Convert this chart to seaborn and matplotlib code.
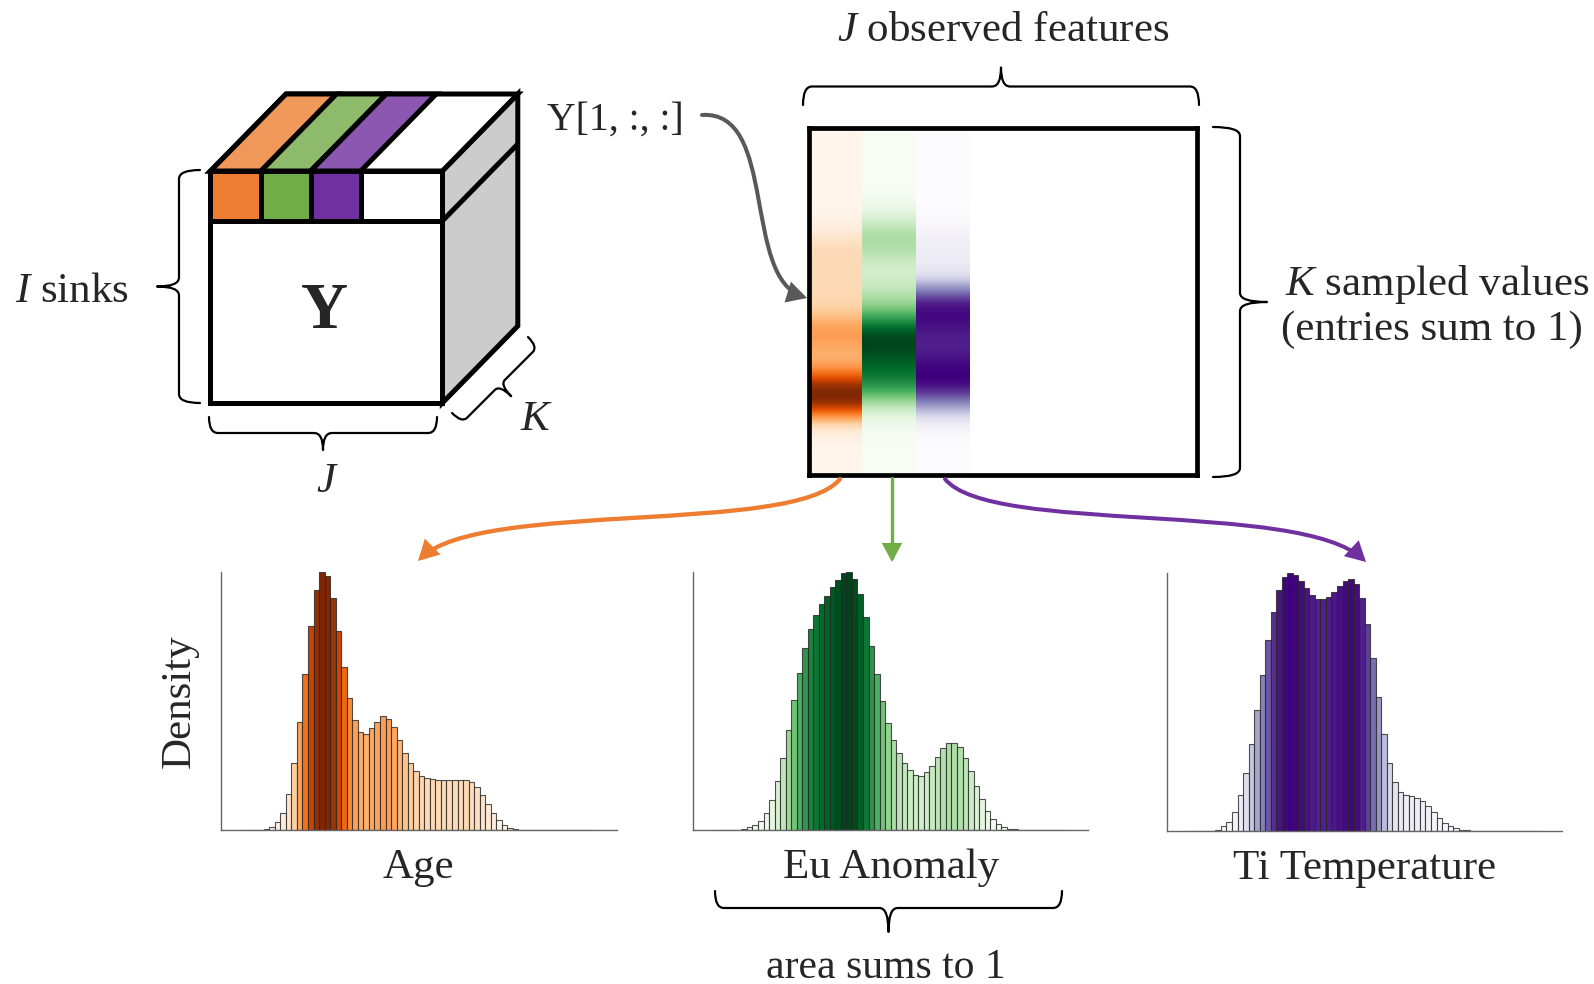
import numpy as np
import pandas as pd
import matplotlib
matplotlib.use("Agg")
import matplotlib.pyplot as plt
import seaborn as sns
from matplotlib.path import Path
from matplotlib.patches import Polygon, FancyArrowPatch, PathPatch, Rectangle

# ---------------- data ----------------
features = ["Age", "Eu Anomaly", "Ti Temperature"]
cmap_names = ["Oranges", "Greens", "Purples"]
n_bins = 64

age_density = [0, 0, 0, 0,
               0.003, 0.01, 0.03, 0.067, 0.14, 0.26, 0.42, 0.605, 0.79, 0.93,
               1.0, 0.986, 0.90, 0.77, 0.63, 0.51, 0.426, 0.38, 0.374, 0.395,
               0.42, 0.44, 0.43, 0.40, 0.35, 0.30, 0.26, 0.23, 0.21, 0.20,
               0.197, 0.195, 0.195, 0.195, 0.195, 0.195, 0.195, 0.187, 0.167, 0.137,
               0.10, 0.066, 0.039, 0.019, 0.009, 0.004] + [0] * 14

eu_density = [0] * 5 + [
    0.005, 0.01, 0.018, 0.035, 0.067, 0.116, 0.19, 0.28, 0.387, 0.503,
    0.61, 0.707, 0.78, 0.832, 0.875, 0.907, 0.94, 0.97, 0.996, 1.0,
    0.974, 0.916, 0.826, 0.714, 0.603, 0.50, 0.415, 0.347, 0.30, 0.26,
    0.232, 0.215, 0.21, 0.223, 0.25, 0.284, 0.317, 0.338, 0.339, 0.32,
    0.279, 0.227, 0.17, 0.121, 0.075, 0.044, 0.023, 0.013, 0.005, 0.003] + [0] * 9

ti_density = [0] * 5 + [
    0.005, 0.018, 0.036, 0.075, 0.138, 0.225, 0.338, 0.468, 0.605, 0.737,
    0.849, 0.934, 0.982, 1.0, 0.991, 0.968, 0.941, 0.914, 0.897, 0.897,
    0.905, 0.924, 0.949, 0.968, 0.974, 0.956, 0.90, 0.80, 0.67, 0.519,
    0.377, 0.264, 0.19, 0.152, 0.139, 0.135, 0.129, 0.116, 0.097, 0.075,
    0.051, 0.032, 0.019, 0.01, 0.005, 0.003] + [0] * 13

densities = [age_density, eu_density, ti_density]

front_colors = ["#ed7d31", "#70ad47", "#7030a0"]
top_colors = ["#f0985a", "#8ebb6b", "#8b57b0"]

# ---------------- style ----------------
sns.set_style("white")
plt.rcParams["font.family"] = ["Liberation Serif", "DejaVu Serif"]
plt.rcParams["mathtext.fontset"] = "custom"
plt.rcParams["mathtext.rm"] = "Liberation Serif"
plt.rcParams["mathtext.it"] = "Liberation Serif:italic"
plt.rcParams["mathtext.bf"] = "Liberation Serif:bold"

W, H = 1594, 984
fig = plt.figure(figsize=(W / 100, H / 100), dpi=100)
fig.patch.set_facecolor("white")


def px_rect(x0, y0, x1, y1):
    return [x0 / W, 1 - y1 / H, (x1 - x0) / W, (y1 - y0) / H]


FS = 31

# ---------------- histograms ----------------
hist_boxes = [(221, 572, 616.5, 830), (693.3, 572, 1088, 830), (1167.3, 572.5, 1562, 831)]
edges = [float(e) for e in range(n_bins + 1)]
centers = [e + 0.5 for e in edges[:-1]]
for k, (name, cm_name, dens, box) in enumerate(zip(features, cmap_names, densities, hist_boxes)):
    ax = fig.add_axes(px_rect(*box))
    cmap = plt.get_cmap(cm_name)
    df = pd.DataFrame({"value": centers, "density": dens})
    sns.histplot(data=df, x="value", weights="density", bins=edges, ax=ax, stat="count",
                 edgecolor=(0.15, 0.15, 0.15, 0.8), linewidth=0.8, alpha=1)
    for patch, v in zip(ax.patches, dens):
        patch.set_facecolor(cmap(v))
    ax.set_xlim(-3.7, n_bins + 3.7)
    ax.set_ylim(0, max(dens))
    ax.set_xticks([])
    ax.set_yticks([])
    for s in ["top", "right"]:
        ax.spines[s].set_visible(False)
    for s in ["left", "bottom"]:
        ax.spines[s].set_color("#666666")
        ax.spines[s].set_linewidth(1.0)
    ax.set_facecolor("none")
    ax.set_xlabel(name, fontsize=FS, labelpad=13)
    ax.set_ylabel("Density" if k == 0 else "", fontsize=FS, labelpad=16)

# ---------------- heatmap slice Y[1, :, :] ----------------
hax = fig.add_axes(px_rect(808.5, 128, 1196.5, 475.5))
for j, (cm_name, dens) in enumerate(zip(cmap_names, densities)):
    vals = np.asarray(dens, float).reshape(-1, 1)
    hax.imshow(vals, cmap=cm_name, vmin=0, vmax=1, origin="lower",
               extent=(j, j + 1, 0, n_bins), aspect="auto", interpolation="bilinear")
hax.set_xlim(0, 7.2)
hax.set_ylim(0, n_bins)
hax.set_xticks([])
hax.set_yticks([])
for s in hax.spines.values():
    s.set_visible(True)
    s.set_color("black")
    s.set_linewidth(3.4)

# ---------------- overlay (pixel coordinates) ----------------
ax0 = fig.add_axes([0, 0, 1, 1], zorder=10)
ax0.set_xlim(0, W)
ax0.set_ylim(H, 0)
ax0.set_axis_off()
ax0.patch.set_alpha(0)

LW = 3.6
xs = [210.5, 261.0, 310.7, 360.7, 442.3]
yT, yM, yB = 171.0, 221.0, 403.0
dx, dy = 75.5, -77.0
xL, xR = xs[0], xs[-1]

ax0.add_patch(Polygon([(xR, yT), (xR + dx, yT + dy), (xR + dx, yB + dy), (xR, yB)],
                      closed=True, facecolor="#cccccc", edgecolor="black", lw=LW, joinstyle="miter"))
ax0.plot([xR, xR + dx], [yM, yM + dy], color="black", lw=LW, solid_capstyle="butt")
ax0.add_patch(Polygon([(xL, yT), (xR, yT), (xR + dx, yT + dy), (xL + dx, yT + dy)],
                      closed=True, facecolor="white", edgecolor="black", lw=LW, joinstyle="miter"))
for k in range(3):
    ax0.add_patch(Polygon([(xs[k], yT), (xs[k + 1], yT), (xs[k + 1] + dx, yT + dy), (xs[k] + dx, yT + dy)],
                          closed=True, facecolor=top_colors[k], edgecolor="black", lw=LW, joinstyle="miter"))
ax0.add_patch(Rectangle((xL, yT), xR - xL, yB - yT, facecolor="white", edgecolor="black", lw=LW,
                        joinstyle="miter"))
for k in range(3):
    ax0.add_patch(Rectangle((xs[k], yT), xs[k + 1] - xs[k], yM - yT, facecolor=front_colors[k],
                            edgecolor="black", lw=LW))
ax0.add_patch(Rectangle((xs[3], yT), xs[4] - xs[3], yM - yT, facecolor="white", edgecolor="black", lw=LW))
ax0.text((xL + xR) / 2 - 2, 328, "Y", fontsize=47, fontweight="bold", ha="center", va="baseline")


def brace(p0, p1, normal, h, t, r=9, lw=1.6):
    p0 = np.asarray(p0, float)
    p1 = np.asarray(p1, float)
    n = np.asarray(normal, float)
    n = n / np.linalg.norm(n)
    u = (p1 - p0) / np.linalg.norm(p1 - p0)
    m = (p0 + p1) / 2
    verts = [p0,
             p0 + n * h, p0 + n * h + u * r,
             m + n * h - u * r,
             m + n * h, m + n * (h + t),
             m + n * h, m + n * h + u * r,
             p1 + n * h - u * r,
             p1 + n * h, p1]
    codes = [Path.MOVETO, Path.CURVE3, Path.CURVE3, Path.LINETO, Path.CURVE3, Path.CURVE3,
             Path.CURVE3, Path.CURVE3, Path.LINETO, Path.CURVE3, Path.CURVE3]
    ax0.add_patch(PathPatch(Path(verts, codes), facecolor="none", edgecolor="black", lw=lw,
                            capstyle="round", joinstyle="round"))


brace((200, 170), (200, 403), (-1, 0), 21, 22)
brace((209, 417), (437, 417), (0, 1), 16, 17)
brace((452, 413), (528, 337), (1, 1), 14, 16, r=7)
ax0.text(15, 301.7, r"$I$ sinks", fontsize=FS, ha="left", va="baseline")
ax0.text(327, 492, r"$J$", fontsize=FS, ha="center", va="baseline")
ax0.text(537, 430, r"$K$", fontsize=FS, ha="center", va="baseline")

ax0.text(547, 130, "Y[1, :, :]", fontsize=28.5, ha="left", va="baseline")
brace((803, 105), (1199, 105), (0, -1), 18.5, 19)
ax0.text(1003, 41, r"$J$ observed features", fontsize=FS, ha="center", va="baseline")
brace((1213, 127), (1213, 477), (1, 0), 27, 27)
ax0.text(1285, 295, r"$K$ sampled values", fontsize=FS, ha="left", va="baseline")
ax0.text(1281, 340, "(entries sum to 1)", fontsize=FS, ha="left", va="baseline")

brace((715, 891), (1062, 891), (0, 1), 17, 24)
ax0.text(886, 978, "area sums to 1", fontsize=30, ha="center", va="baseline")


def arrow(verts, color, lw, curve=True):
    codes = [Path.MOVETO] + ([Path.CURVE4] * 3 if curve else [Path.LINETO])
    ax0.add_patch(FancyArrowPatch(path=Path(verts, codes),
                                  arrowstyle="-|>,head_length=0.5,head_width=0.27",
                                  mutation_scale=20, color=color, lw=lw,
                                  shrinkA=0, shrinkB=0, joinstyle="miter"))


arrow([(702, 115), (778, 110), (742, 278), (807, 298)], "#595959", 2.9)
arrow([(840, 479), (795, 535), (480, 500), (418, 561)], "#ed7d31", 3.1)
arrow([(892, 478), (892, 562)], "#70ad47", 2.4, curve=False)
arrow([(945, 479), (990, 535), (1300, 500), (1366, 562)], "#7030a0", 2.9)

fig.savefig("out.png", dpi=100, facecolor="white")
